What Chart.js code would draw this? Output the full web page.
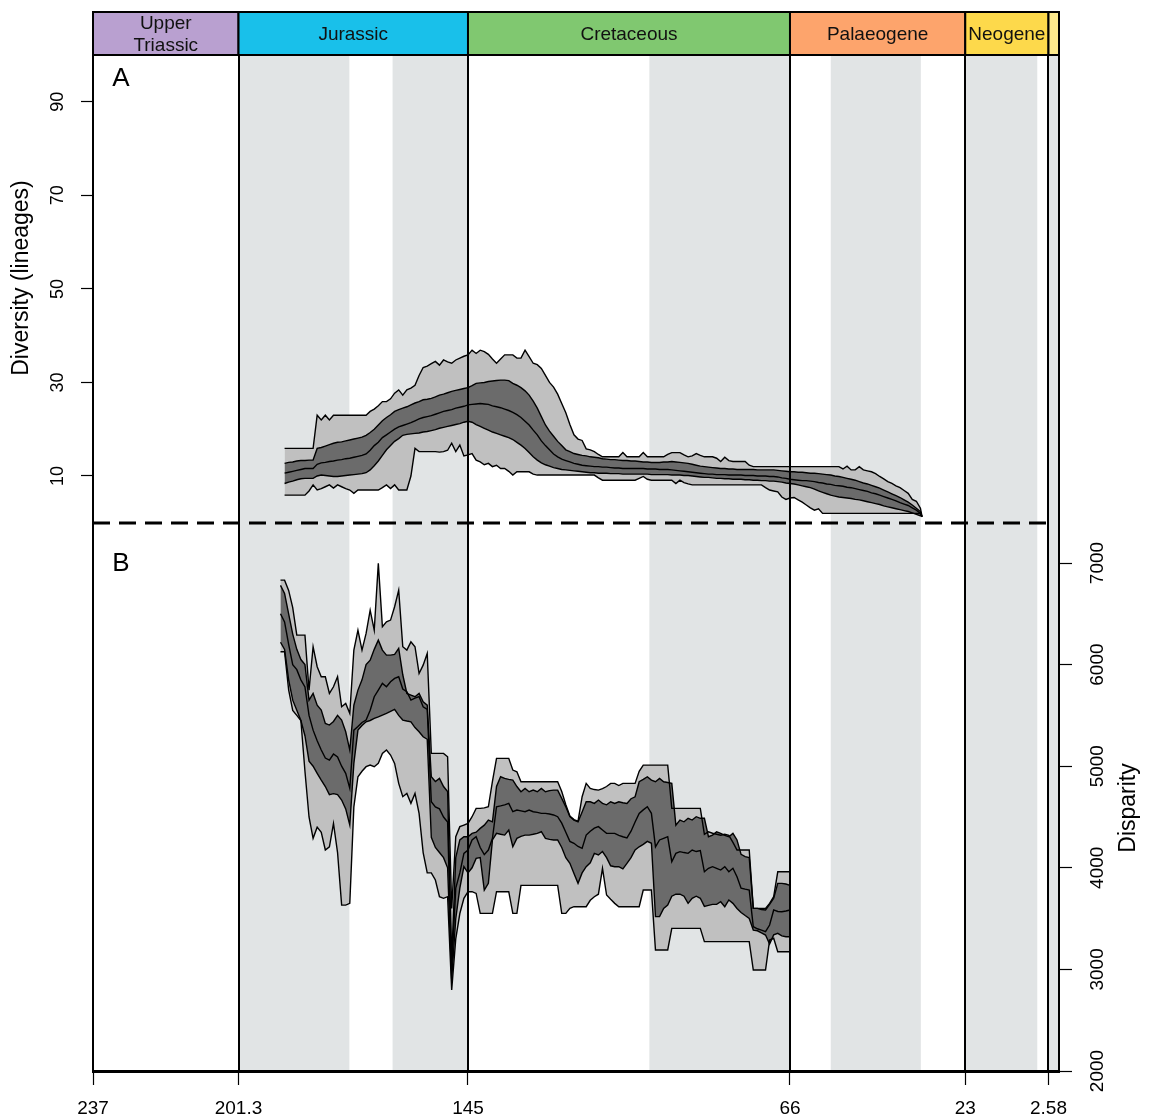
<!DOCTYPE html>
<html>
<head>
<meta charset="utf-8">
<title>Diversity and disparity through time</title>
<script src="https://cdn.jsdelivr.net/npm/chart.js@4.4.1/dist/chart.umd.min.js"></script>
<style>
  html, body { margin: 0; padding: 0; background: #ffffff; }
  #wrap { width: 1151px; height: 1120px; }
</style>
</head>
<body>
<div id="wrap"><canvas id="chart" width="1151" height="1120"></canvas></div>
<script>
// ---- Time scale (Ma) ----
const ageTicks = [237, 201.3, 145, 66, 23, 2.58];
const periodNames = ['Upper\nTriassic', 'Jurassic', 'Cretaceous', 'Palaeogene', 'Neogene', ''];
const periodStart = [237, 201.3, 145, 66, 23, 2.58];
const periodEnd = [201.3, 145, 66, 23, 2.58, 0];
const periodColours = ['#b9a0d0', '#19c0ea', '#80c870', '#fda46c', '#fdd94b', '#fde98c'];
// alternate epochs shaded
const shadedStart = [201.3, 163.5, 100.5, 56.0, 23, 2.58];
const shadedEnd = [174.1, 145, 66, 33.9, 5.33, 0];

const diversityTicks = [10, 30, 50, 70, 90];
const disparityTicks = [2000, 3000, 4000, 5000, 6000, 7000];

// ---- A: diversity, 1 Myr bins from 190 to 34 Ma, last bin at 33.6 Ma ----
const divAges = [];
for (let a = 190; a >= 34; a -= 1) divAges.push(a);
divAges.push(33.6);

const divUpper95 = [
  15.9, 15.9, 15.9, 15.9, 15.9, 15.9, 15.9, 15.9, 23.0, 22.0,   // 190-181
  23.0, 22.0, 23.0, 23.0, 23.0, 23.0, 23.0, 23.0, 23.0, 23.0,   // 180-171
  23.0, 23.8, 24.3, 25.0, 25.9, 25.9, 26.5, 27.7, 28.4, 27.3,   // 170-161
  28.4, 28.8, 29.4, 31.5, 33.2, 33.5, 34.0, 34.5, 33.7, 34.8,   // 160-151
  34.4, 34.1, 34.8, 35.2, 35.6, 35.9, 36.9, 36.2, 36.9, 36.6,   // 150-141
  36.0, 35.0, 34.1, 35.0, 35.9, 35.9, 35.9, 35.2, 35.2, 36.9,   // 140-131
  35.5, 34.1, 33.8, 33.0, 31.5, 30.0, 29.0, 27.5, 25.5, 23.5,   // 130-121
  21.0, 18.8, 17.9, 17.6, 15.8, 15.6, 15.2, 14.6, 14.1, 14.1,   // 120-111
  14.1, 14.1, 14.1, 15.0, 14.1, 14.1, 14.1, 14.1, 15.0, 14.1,   // 110-101
  14.1, 14.1, 14.1, 14.1, 14.6, 15.0, 15.0, 15.0, 14.5, 14.1,   // 100-91
  14.3, 14.8, 14.4, 14.1, 14.1, 14.1, 13.8, 13.1, 14.0, 13.3,   // 90-81
  13.1, 13.1, 13.1, 13.1, 12.3, 12.0, 12.0, 12.0, 12.0, 12.0,   // 80-71
  12.0, 12.0, 12.0, 12.0, 12.0, 12.0, 12.0, 12.0, 12.0, 12.0,   // 70-61
  12.0, 12.0, 12.0, 12.0, 12.0, 12.0, 12.0, 11.5, 12.1, 11.3,   // 60-51
  11.3, 12.0, 11.3, 11.1, 10.9, 10.5, 9.9, 9.4, 8.8, 8.4,       // 50-41
  7.9, 7.5, 6.9, 6.3, 5.0, 4.6, 3.1, 1.3                        // 40-34, 33.6
];
const divUpper50 = [
  12.7, 12.9, 13.0, 13.2, 13.3, 13.3, 13.4, 13.4, 15.9, 16.1,
  16.4, 16.7, 17.0, 17.2, 17.3, 17.5, 17.7, 17.9, 18.1, 18.3,
  18.7, 19.3, 20.0, 20.9, 21.8, 22.5, 23.1, 23.8, 24.2, 24.5,
  24.8, 25.2, 25.6, 25.9, 26.3, 26.4, 26.6, 26.9, 27.3, 27.5,
  27.8, 28.1, 28.3, 28.5, 28.7, 28.9, 29.3, 29.8, 29.9, 30.0,
  30.2, 30.3, 30.4, 30.5, 30.5, 30.4, 29.8, 29.4, 28.9, 28.2,
  27.3, 26.0, 24.5, 22.7, 20.9, 19.6, 18.5, 17.4, 16.5, 15.6,
  15.2, 14.8, 14.6, 14.4, 14.3, 14.1, 14.0, 13.9, 13.7, 13.6,
  13.5, 13.5, 13.4, 13.3, 13.3, 13.2, 13.2, 13.1, 13.0, 13.0,
  12.9, 12.9, 12.9, 13.0, 13.0, 13.1, 13.0, 12.9, 12.8, 12.7,
  12.5, 12.3, 12.1, 12.0, 11.9, 11.8, 11.7, 11.6, 11.6, 11.5,
  11.5, 11.4, 11.4, 11.4, 11.4, 11.4, 11.3, 11.3, 11.3, 11.3,
  11.3, 11.2, 11.1, 11.0, 10.9, 10.9, 10.8, 10.8, 10.7, 10.6,
  10.6, 10.5, 10.4, 10.3, 10.2, 10.0, 9.9, 9.7, 9.5, 9.3,
  9.1, 8.8, 8.5, 8.3, 8.0, 7.7, 7.4, 7.0, 6.6, 6.2,
  5.8, 5.4, 4.9, 4.4, 3.8, 3.1, 2.4, 1.3
];
const divMedian = [
  10.6, 10.8, 11.0, 11.2, 11.4, 11.6, 11.6, 11.6, 12.5, 12.8,
  12.9, 13.1, 13.2, 13.4, 13.5, 13.7, 13.8, 14.0, 14.2, 14.4,
  14.7, 15.5, 16.5, 17.2, 18.2, 18.8, 19.4, 20.0, 20.5, 20.8,
  21.1, 21.4, 21.8, 22.2, 22.5, 22.7, 22.9, 23.2, 23.5, 23.8,
  24.0, 24.2, 24.5, 24.7, 24.9, 25.2, 25.3, 25.4, 25.5, 25.4,
  25.3, 25.0, 24.8, 24.6, 24.3, 24.0, 23.6, 23.1, 22.5, 21.7,
  20.9, 19.8, 18.8, 17.5, 16.5, 15.6, 14.7, 14.1, 13.6, 13.3,
  13.0, 12.7, 12.5, 12.3, 12.2, 12.1, 12.0, 12.0, 11.9, 11.9,
  11.8, 11.7, 11.7, 11.6, 11.6, 11.6, 11.6, 11.6, 11.6, 11.5,
  11.5, 11.5, 11.4, 11.4, 11.4, 11.3, 11.2, 11.1, 11.0, 10.9,
  10.8, 10.7, 10.6, 10.5, 10.4, 10.4, 10.3, 10.3, 10.3, 10.2,
  10.2, 10.2, 10.2, 10.1, 10.1, 10.1, 10.0, 10.0, 10.0, 9.9,
  9.9, 9.8, 9.6, 9.5, 9.3, 9.2, 9.1, 9.0, 9.0, 8.9,
  8.8, 8.6, 8.5, 8.3, 8.2, 8.0, 7.9, 7.8, 7.6, 7.5,
  7.3, 7.1, 6.9, 6.7, 6.4, 6.2, 5.9, 5.6, 5.3, 5.0,
  4.7, 4.3, 4.0, 3.7, 3.2, 2.7, 2.0, 1.3
];
const divLower50 = [
  8.4, 8.7, 8.9, 9.2, 9.4, 9.5, 9.5, 9.5, 10.0, 10.2,
  10.1, 10.0, 9.9, 9.9, 10.0, 10.1, 10.2, 10.3, 10.4, 10.5,
  10.7, 11.3, 12.2, 13.2, 14.4, 15.6, 16.5, 17.4, 18.0, 18.7,
  18.9, 19.0, 19.1, 19.2, 19.4, 19.5, 19.7, 19.9, 20.2, 20.4,
  20.6, 20.8, 21.0, 21.2, 21.5, 21.7, 21.5, 21.0, 20.6, 20.2,
  19.8, 19.4, 19.1, 18.8, 18.5, 18.2, 17.8, 17.2, 16.6, 15.9,
  15.0, 14.1, 13.4, 12.8, 12.4, 12.1, 11.8, 11.6, 11.4, 11.3,
  11.2, 11.1, 11.0, 10.9, 10.8, 10.7, 10.7, 10.6, 10.6, 10.6,
  10.5, 10.5, 10.5, 10.4, 10.4, 10.4, 10.4, 10.4, 10.4, 10.4,
  10.3, 10.3, 10.3, 10.3, 10.3, 10.2, 10.2, 10.2, 10.1, 10.1,
  10.0, 9.9, 9.8, 9.7, 9.7, 9.6, 9.5, 9.5, 9.4, 9.4,
  9.3, 9.3, 9.3, 9.2, 9.2, 9.1, 9.1, 9.0, 9.0, 8.9,
  8.9, 8.8, 8.7, 8.5, 8.4, 8.3, 8.1, 7.9, 7.7, 7.5,
  7.2, 6.8, 6.5, 6.2, 5.9, 5.7, 5.5, 5.4, 5.3, 5.2,
  5.0, 4.9, 4.7, 4.5, 4.3, 4.1, 3.9, 3.6, 3.4, 3.2,
  3.0, 2.8, 2.6, 2.4, 2.1, 1.8, 1.5, 1.3
];
const divLower95 = [
  5.9, 5.9, 5.9, 5.9, 5.9, 5.9, 6.8, 8.1, 7.0, 7.3,
  7.7, 8.1, 7.4, 8.1, 7.7, 7.3, 7.0, 6.3, 7.0, 7.0,
  7.0, 7.0, 7.0, 7.0, 7.5, 8.1, 7.3, 8.1, 7.0, 7.0,
  7.0, 10.0, 15.9, 15.2, 15.2, 15.2, 15.2, 15.2, 15.1, 15.2,
  15.5, 17.0, 15.2, 16.6, 14.3, 14.5, 14.8, 13.4, 13.0, 12.4,
  12.7, 12.0, 12.3, 11.6, 11.6, 11.0, 10.2, 10.9, 10.9, 10.9,
  10.9, 10.4, 10.2, 10.2, 10.2, 10.2, 10.2, 10.2, 10.2, 10.2,
  10.2, 10.2, 10.2, 10.2, 10.2, 10.2, 10.2, 9.6, 9.1, 9.1,
  9.1, 9.1, 9.1, 9.1, 9.1, 9.1, 9.1, 9.5, 9.9, 9.3,
  9.1, 9.1, 9.1, 9.1, 9.1, 9.1, 8.4, 9.1, 8.6, 8.3,
  8.1, 8.1, 8.1, 8.1, 8.1, 8.1, 8.1, 8.1, 8.1, 8.1,
  8.1, 8.1, 8.1, 8.1, 8.1, 8.1, 8.1, 8.1, 7.5, 7.0,
  6.8, 6.6, 5.5, 5.0, 5.3, 5.4, 4.9, 4.4, 3.8, 3.2,
  2.7, 3.0, 2.0, 2.0, 2.0, 2.0, 2.0, 2.0, 2.0, 2.0,
  2.0, 2.0, 2.0, 2.0, 2.0, 2.0, 2.0, 2.0, 2.0, 2.0,
  2.0, 2.0, 2.0, 2.0, 2.0, 2.0, 2.0, 1.3
];

// ---- B: disparity, 1 Myr bins from 191 to 66 Ma ----
const dspAges = [];
for (let a = 191; a >= 66; a -= 1) dspAges.push(a);

const dspUpper95 = [
  6831, 6831, 6730, 6560, 6290, 6290, 6290, 5749, 6176, 5979,   // 191-182
  5880, 5880, 5716, 5782, 5880, 5585, 5618, 5520, 6143, 6339,   // 181-172
  6143, 6307, 6536, 6339, 6996, 6372, 6421, 6438, 6569, 6733,   // 171-162
  6176, 6143, 6224, 6176, 5913, 5995, 6110, 5126, 5126, 5126,   // 161-152
  5126, 5093, 3600, 4306, 4405, 4421, 4437, 4503, 4585, 4585,   // 151-142
  4590, 4601, 4850, 5077, 5077, 5077, 5077, 4962, 4945, 4847,   // 141-132
  4847, 4847, 4847, 4847, 4847, 4847, 4847, 4847, 4847, 4750,   // 131-122
  4620, 4510, 4475, 4460, 4700, 4831, 4782, 4770, 4765, 4780,   // 121-112
  4800, 4831, 4831, 4810, 4831, 4831, 4831, 4831, 4950, 5011,   // 111-102
  5011, 5011, 5011, 5011, 5011, 5011, 4585, 4585, 4585, 4585,   // 101-92
  4585, 4585, 4585, 4585, 4330, 4355, 4340, 4330, 4320, 4330,   // 91-82
  4320, 4250, 4175, 4175, 4175, 4175, 3601, 3601, 3601, 3601,   // 81-72
  3650, 3716, 3961, 3961, 3961, 3961                            // 71-66
];
const dspUpper50 = [
  6780, 6700, 6500, 6300, 6150, 6050, 6000, 5650, 5716, 5600,
  5552, 5421, 5405, 5440, 5500, 5454, 5339, 5159, 5600, 5749,
  5850, 6000, 6044, 6150, 6241, 6143, 6093, 6093, 6100, 6159,
  5900, 5716, 5700, 5684, 5716, 5634, 5601, 4896, 4850, 4880,
  4800, 4750, 3100, 4100, 4274, 4306, 4306, 4339, 4350, 4388,
  4420, 4470, 4453, 4800, 4896, 4880, 4870, 4863, 4800, 4749,
  4782, 4749, 4765, 4749, 4782, 4749, 4760, 4765, 4765, 4683,
  4600, 4503, 4470, 4453, 4550, 4650, 4650, 4634, 4667, 4634,
  4620, 4650, 4634, 4650, 4640, 4634, 4680, 4699, 4847, 4870,
  4896, 4863, 4847, 4880, 4847, 4840, 4831, 4420, 4470, 4453,
  4487, 4470, 4503, 4487, 4487, 4306, 4322, 4355, 4339, 4320,
  4306, 4339, 4274, 4132, 4110, 4100, 3601, 3601, 3590, 3585,
  3640, 3700, 3847, 3847, 3840, 3827
];
const dspMedian = [
  6500, 6420, 6200, 6000, 5950, 5850, 5780, 5500, 5355, 5250,
  5159, 5080, 5060, 5120, 5090, 5000, 4930, 4782, 5355, 5390,
  5430, 5454, 5550, 5684, 5749, 5815, 5782, 5831, 5864, 5880,
  5760, 5733, 5651, 5670, 5684, 5585, 5560, 4650, 4600, 4580,
  4500, 4450, 3000, 3800, 3950, 4142, 4175, 4274, 4306, 4200,
  4130, 4175, 4290, 4601, 4610, 4620, 4634, 4552, 4568, 4560,
  4552, 4568, 4552, 4545, 4536, 4536, 4530, 4520, 4503, 4440,
  4350, 4260, 4241, 4210, 4191, 4322, 4360, 4390, 4405, 4372,
  4339, 4339, 4339, 4320, 4306, 4295, 4360, 4450, 4536, 4570,
  4601, 4536, 4207, 4274, 4290, 4306, 4060, 4142, 4159, 4150,
  4142, 4175, 4160, 4170, 3961, 3995, 4011, 3995, 3978, 4011,
  3961, 3995, 3912, 3800, 3790, 3781, 3420, 3400, 3387, 3371,
  3437, 3585, 3570, 3568, 3575, 3585
];
const dspLower50 = [
  6220, 6150, 5850, 5650, 5550, 5450, 5300, 5050, 5000, 4930,
  4863, 4800, 4720, 4730, 4720, 4667, 4580, 4420, 5028, 5355,
  5400, 5437, 5450, 5470, 5485, 5503, 5520, 5540, 5559, 5500,
  5454, 5445, 5437, 5380, 5339, 5290, 5265, 4300, 4200, 4150,
  4100, 4000, 2900, 3500, 3800, 4011, 3950, 4000, 4093, 4100,
  3781, 3847, 4274, 4339, 4330, 4322, 4372, 4207, 4290, 4310,
  4322, 4322, 4330, 4339, 4355, 4290, 4280, 4274, 4274, 4200,
  4100, 4044, 3945, 3847, 3950, 4011, 4050, 4142, 4126, 4160,
  4100, 4020, 4011, 4011, 3990, 4044, 4100, 4175, 4207, 4230,
  4260, 4241, 3519, 3519, 3600, 3633, 3720, 3740, 3740, 3720,
  3650, 3700, 3720, 3700, 3620, 3630, 3640, 3640, 3666, 3617,
  3683, 3650, 3600, 3560, 3530, 3502, 3387, 3380, 3360, 3338,
  3250, 3340, 3355, 3330, 3322, 3322
];
const dspLower95 = [
  6126, 6126, 5750, 5550, 5500, 5450, 4950, 4500, 4290, 4400,
  4350, 4175, 4207, 4437, 4150, 3633, 3633, 3650, 4600, 4896,
  4950, 4995, 5011, 4995, 5028, 5126, 5159, 5110, 5028, 4831,
  4700, 4732, 4634, 4732, 4535, 4150, 3950, 3950, 3880, 3716,
  3700, 3716, 2797, 3300, 3550, 3700, 3765, 3765, 3748, 3551,
  3551, 3551, 3551, 3765, 3765, 3765, 3765, 3551, 3551, 3827,
  3827, 3827, 3827, 3827, 3827, 3827, 3827, 3827, 3827, 3551,
  3551, 3601, 3617, 3617, 3617, 3617, 3680, 3715, 3740, 3995,
  3732, 3690, 3650, 3617, 3617, 3617, 3617, 3617, 3617, 3781,
  3781, 3781, 3191, 3191, 3191, 3191, 3404, 3404, 3404, 3404,
  3404, 3404, 3404, 3404, 3273, 3273, 3273, 3273, 3273, 3273,
  3273, 3273, 3273, 3273, 3273, 3273, 2994, 2994, 2994, 2994,
  3289, 3306, 3174, 3174, 3174, 3174
];

// ---- styling ----
const FONT = "'Liberation Sans', Arial, Helvetica, sans-serif";
const NARROW = "'Liberation Sans Narrow', 'Liberation Sans', Arial, sans-serif";
const OUTER_FILL = '#c0c0c0';
const INNER_FILL = '#6b6b6b';
const SHADE = '#e1e4e5';
const HEADER_TOP = 12;

function series(label, ages, values, axis, order, fillTarget, fillColour) {
  return {
    label: label,
    yAxisID: axis,
    order: order,
    data: ages.map((a, i) => ({ x: a, y: values[i] })),
    borderColor: '#000000',
    borderWidth: 1.4,
    pointRadius: 0,
    tension: 0,
    fill: fillTarget === null ? false : fillTarget,
    backgroundColor: fillColour || 'rgba(0,0,0,0)'
  };
}

const datasets = [
  series('Diversity 95% upper', divAges, divUpper95, 'yDiv', 3, 4, OUTER_FILL),   // 0
  series('Diversity 50% upper', divAges, divUpper50, 'yDiv', 2, 3, INNER_FILL),   // 1
  series('Diversity median', divAges, divMedian, 'yDiv', 1, null),               // 2
  series('Diversity 50% lower', divAges, divLower50, 'yDiv', 1, null),           // 3
  series('Diversity 95% lower', divAges, divLower95, 'yDiv', 1, null),           // 4
  series('Disparity 95% upper', dspAges, dspUpper95, 'yDisp', 3, 9, OUTER_FILL), // 5
  series('Disparity 50% upper', dspAges, dspUpper50, 'yDisp', 2, 8, INNER_FILL), // 6
  series('Disparity median', dspAges, dspMedian, 'yDisp', 1, null),              // 7
  series('Disparity 50% lower', dspAges, dspLower50, 'yDisp', 1, null),          // 8
  series('Disparity 95% lower', dspAges, dspLower95, 'yDisp', 1, null)           // 9
];

// shaded epochs behind everything, period boxes and guide lines on top
const timescale = {
  id: 'timescale',
  beforeDraw(chart) {
    const { ctx, chartArea: area, scales: { x } } = chart;
    ctx.save();
    ctx.fillStyle = SHADE;
    shadedStart.forEach((s, i) => {
      const x1 = x.getPixelForValue(s);
      const x2 = x.getPixelForValue(shadedEnd[i]);
      ctx.fillRect(x1, area.top, x2 - x1, area.bottom - area.top);
    });
    ctx.restore();
  },
  afterDraw(chart) {
    const { ctx, chartArea: area, scales: { x, yDiv } } = chart;
    ctx.save();

    // boundary between the two panels
    const y0 = Math.round(yDiv.getPixelForValue(0));
    ctx.strokeStyle = '#000';
    ctx.lineWidth = 3;
    ctx.setLineDash([17, 9]);
    ctx.beginPath();
    ctx.moveTo(area.left, y0);
    ctx.lineTo(x.getPixelForValue(2.58), y0);
    ctx.stroke();
    ctx.setLineDash([]);

    // period boundaries through both panels
    ctx.lineWidth = 2;
    [201.3, 145, 66, 23, 2.58].forEach(a => {
      const px = Math.round(x.getPixelForValue(a));
      ctx.beginPath();
      ctx.moveTo(px, HEADER_TOP);
      ctx.lineTo(px, area.bottom);
      ctx.stroke();
    });

    // period boxes
    periodNames.forEach((name, i) => {
      const x1 = x.getPixelForValue(periodStart[i]);
      const x2 = x.getPixelForValue(periodEnd[i]);
      ctx.fillStyle = periodColours[i];
      ctx.fillRect(x1, HEADER_TOP, x2 - x1, area.top - HEADER_TOP);
      ctx.strokeStyle = '#000';
      ctx.lineWidth = 2;
      ctx.strokeRect(x1, HEADER_TOP, x2 - x1, area.top - HEADER_TOP);
      if (name) {
        ctx.fillStyle = '#111';
        ctx.font = '19px ' + FONT;
        ctx.textAlign = 'center';
        ctx.textBaseline = 'middle';
        const lines = name.split('\n');
        const cx = (x1 + x2) / 2;
        const cy = (HEADER_TOP + area.top) / 2 + 1.5;
        const lh = 22;
        lines.forEach((t, k) => {
          ctx.fillText(t, cx, cy + (k - (lines.length - 1) / 2) * lh);
        });
      }
    });

    // panel letters
    ctx.fillStyle = '#000';
    ctx.font = '26px ' + FONT;
    ctx.textAlign = 'center';
    ctx.textBaseline = 'middle';
    ctx.fillText('A', 121, 79);
    ctx.fillText('B', 121, 564);

    // axis titles
    ctx.font = '23px ' + FONT;
    ctx.save();
    ctx.translate(22, 278);
    ctx.rotate(-Math.PI / 2);
    ctx.fillText('Diversity (lineages)', 0, 0);
    ctx.restore();
    ctx.save();
    ctx.translate(1129, 808);
    ctx.rotate(-Math.PI / 2);
    ctx.fillText('Disparity', 0, 0);
    ctx.restore();

    ctx.restore();
  }
};

Chart.defaults.font.family = FONT;
Chart.defaults.color = '#000';

new Chart(document.getElementById('chart'), {
  type: 'line',
  data: { datasets: datasets },
  options: {
    responsive: false,
    animation: false,
    devicePixelRatio: 1,
    events: [],
    layout: { padding: { top: 55, left: 0, right: 0, bottom: 0 } },
    plugins: {
      legend: { display: false },
      tooltip: { enabled: false },
      filler: { drawTime: 'beforeDatasetsDraw', propagate: false }
    },
    scales: {
      x: {
        type: 'linear',
        position: 'bottom',
        reverse: true,
        min: 0,
        max: 237,
        afterBuildTicks: s => { s.ticks = ageTicks.map(v => ({ value: v })); },
        afterFit: s => { s.height = 49; },
        ticks: {
          autoSkip: false,
          maxRotation: 0,
          minRotation: 0,
          padding: 12,
          color: '#000',
          font: { family: NARROW, size: 19 },
          callback: v => String(v)
        },
        grid: { drawOnChartArea: false, drawTicks: true, tickLength: 14, tickWidth: 1.2, tickColor: '#000' },
        border: { display: true, color: '#000', width: 3 }
      },
      yDiv: {
        type: 'linear',
        position: 'left',
        min: -117.2,
        max: 100,
        afterBuildTicks: s => { s.ticks = diversityTicks.map(v => ({ value: v })); },
        afterFit: s => { s.width = 93; },
        ticks: {
          autoSkip: false,
          minRotation: 90,
          maxRotation: 90,
          crossAlign: 'center',
          padding: 13,
          color: '#000',
          font: { size: 18 },
          callback: v => String(v)
        },
        grid: { drawOnChartArea: false, drawTicks: true, tickLength: 12, tickWidth: 1.2, tickColor: '#000' },
        border: { display: true, color: '#000', width: 2 }
      },
      yDisp: {
        type: 'linear',
        position: 'right',
        min: 2000,
        max: 12000,
        afterBuildTicks: s => { s.ticks = disparityTicks.map(v => ({ value: v })); },
        afterFit: s => { s.width = 92; },
        ticks: {
          autoSkip: false,
          minRotation: 90,
          maxRotation: 90,
          crossAlign: 'center',
          padding: 5,
          color: '#000',
          font: { size: 19 },
          callback: v => String(v)
        },
        grid: { drawOnChartArea: false, drawTicks: true, tickLength: 13, tickWidth: 1.2, tickColor: '#000' },
        border: { display: true, color: '#000', width: 2 }
      }
    }
  },
  plugins: [timescale]
});
</script>
</body>
</html>
